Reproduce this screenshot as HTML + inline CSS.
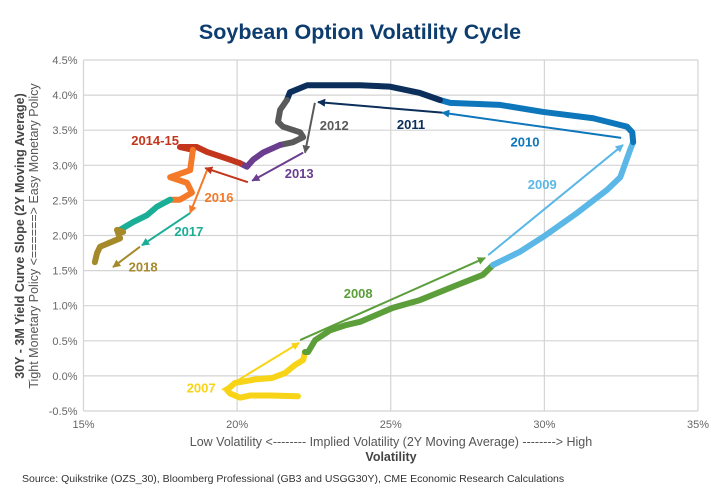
<!DOCTYPE html>
<html><head><meta charset="utf-8"><style>
body{margin:0;background:#fff;}
svg{display:block;font-family:"Liberation Sans",sans-serif;}
</style></head><body>
<svg id="chart" width="720" height="500" viewBox="0 0 720 500">
<text x="360" y="39" text-anchor="middle" font-size="21.5" font-weight="bold" fill="#0d3d6e">Soybean Option Volatility Cycle</text>
<g id="grid"></g>
<g id="series"></g>
<g id="arrows"></g>
<g id="labels"></g>
<g transform="translate(24,236) rotate(-90)">
<text x="0" y="0" text-anchor="middle" font-size="12.5" font-weight="bold" fill="#444">30Y - 3M Yield Curve Slope (2Y Moving Average)</text>
<text x="0" y="14" text-anchor="middle" font-size="12.5" fill="#555">Tight Monetary Policy &lt;======&gt; Easy Monetary Policy</text>
</g>
<text x="391" y="446" text-anchor="middle" font-size="12.5" fill="#555">Low Volatility  &lt;--------  Implied Volatility (2Y Moving Average)  --------&gt;  High</text>
<text x="391" y="461" text-anchor="middle" font-size="12.5" font-weight="bold" fill="#444">Volatility</text>
<text x="22" y="482" font-size="10.5" fill="#333">Source: Quikstrike (OZS_30), Bloomberg Professional (GB3 and USGG30Y), CME Economic Research Calculations</text>
</svg>
<script>
const xTicks=[15,20,25,30,35];
const yTicks=[-0.5,0,0.5,1,1.5,2,2.5,3,3.5,4,4.5];
const seriesNames=["2007","2008","2009","2010","2011","2012","2013","2014-15","2016","2017","2018"];
const seriesColors=["#f7d417","#5b9e3a","#5ab7e6","#0e76bb","#0b2e5a","#5a5a5a","#6a3d8f","#c4361b","#f47a2a","#1aae96","#a58a2c"];
const s2007=[[21.98,-0.29],[21.07,-0.28],[20.42,-0.28],[20.09,-0.31],[19.77,-0.25],[19.67,-0.2],[19.93,-0.1],[20.58,-0.05],[21.14,-0.03],[21.56,0.04],[21.88,0.155],[22.15,0.227],[22.21,0.34]];
const s2008=[[22.21,0.34],[22.31,0.34],[22.54,0.51],[23.03,0.65],[23.51,0.72],[24.0,0.77],[25.07,0.97],[25.95,1.08],[27.02,1.27],[28.0,1.44],[28.33,1.58]];
const s2009=[[28.33,1.58],[29.21,1.77],[29.96,1.98],[31.06,2.32],[32.04,2.65],[32.47,2.83],[32.79,3.22],[32.89,3.33]];
const s2010=[[32.89,3.33],[32.86,3.47],[32.69,3.55],[31.59,3.67],[29.96,3.76],[28.56,3.86],[26.93,3.89],[26.6,3.93]];
const s2011=[[26.6,3.93],[25.95,4.03],[24.98,4.12],[24.0,4.14],[22.28,4.14],[21.72,4.04],[21.62,3.93]];
const s2012=[[21.62,3.93],[21.4,3.79],[21.33,3.62],[21.49,3.55],[22.05,3.47],[22.15,3.40],[21.82,3.33],[21.4,3.29]];
const s2013=[[21.4,3.29],[20.84,3.18],[20.52,3.08],[20.32,2.98],[20.09,3.03]];
const s2014=[[20.09,3.03],[19.77,3.08],[19.02,3.19],[18.69,3.26],[18.14,3.26],[18.56,3.22]];
const s2016=[[18.56,3.22],[18.53,3.12],[18.47,2.93],[17.82,2.83],[18.37,2.75],[18.53,2.61],[18.14,2.51],[17.82,2.51]];
const s2017=[[17.82,2.51],[17.39,2.41],[17.07,2.29],[16.61,2.19],[16.19,2.08]];
const s2018=[[16.29,2.05],[16.09,2.08],[16.19,1.96],[15.54,1.84],[15.44,1.75],[15.37,1.62]];
const seriesData=[s2007,s2008,s2009,s2010,s2011,s2012,s2013,s2014,s2016,s2017,s2018];
const arrowStart=[[19.51,-0.2],[22.05,0.51],[28.17,1.72],[32.5,3.39],[26.67,3.75],[22.53,3.89],[22.15,3.18],[20.35,2.76],[19.02,2.93],[18.47,2.32],[16.84,1.84]];
const arrowEnd=[[22.02,0.47],[28.07,1.68],[32.56,3.29],[26.67,3.75],[22.63,3.9],[22.21,3.18],[20.49,2.78],[18.96,2.96],[18.47,2.32],[16.9,1.86],[15.96,1.55]];
const labelPos=[[18.83,-0.24],[23.94,1.11],[29.93,2.66],[29.37,3.27],[25.66,3.52],[23.16,3.5],[22.02,2.82],[17.33,3.29],[19.41,2.48],[18.43,1.99],[16.94,1.49]];

const NS="http://www.w3.org/2000/svg";
const X0=83.5,X1=698,Y0=411,Y1=60;
function sx(v){return X0+(v-15)/20*(X1-X0);}
function sy(v){return Y0-(v+0.5)/5*(Y0-Y1);}
function mk(t,a,p){const e=document.createElementNS(NS,t);for(const k in a)e.setAttribute(k,a[k]);p.appendChild(e);return e;}
const grid=document.getElementById('grid');
yTicks.forEach(v=>{
  const l=mk('line',{x1:X0,x2:X1,y1:sy(v),y2:sy(v),stroke:'#d4d4d4','stroke-width':1.2},grid);
  
  
  const t=mk('text',{x:X0-6,y:sy(v)+4,'text-anchor':'end','font-size':11,fill:'#666'},grid);
  t.textContent=v.toFixed(1)+'%';
  
  
});
xTicks.forEach(v=>{
  const l=mk('line',{x1:sx(v),x2:sx(v),y1:Y1,y2:Y0,stroke:'#d4d4d4','stroke-width':1.2},grid);
  
  
  const t=mk('text',{x:sx(v),y:Y0+17,'text-anchor':'middle','font-size':11,fill:'#666'},grid);
  t.textContent=v+'%';
  
  
});
const defs=mk('defs',{},document.getElementById('chart'));
seriesColors.forEach((c,i)=>{
  const m=mk('marker',{id:'ah'+i,viewBox:'0 0 10 10',refX:9,refY:5,markerWidth:4,markerHeight:4,orient:'auto'},defs);
  mk('path',{d:'M0,0 L10,5 L0,10 z',fill:c},m);
});
const sg=document.getElementById('series'),ag=document.getElementById('arrows'),lg=document.getElementById('labels');
seriesData.forEach((d,i)=>{
  const p=mk('polyline',{points:d.map(q=>sx(q[0])+','+sy(q[1])).join(' '),fill:'none',stroke:seriesColors[i],'stroke-width':6,'stroke-linejoin':'round','stroke-linecap':'round'},sg);
  
  
  const a=mk('line',{x1:sx(arrowStart[i][0]),y1:sy(arrowStart[i][1]),x2:sx(arrowEnd[i][0]),y2:sy(arrowEnd[i][1]),stroke:seriesColors[i],'stroke-width':2,'marker-end':'url(#ah'+i+')'},ag);
  
  
  const t=mk('text',{x:sx(labelPos[i][0]),y:sy(labelPos[i][1]),'text-anchor':'middle','font-size':13,'font-weight':'bold',fill:seriesColors[i]},lg);
  t.textContent=seriesNames[i];
  
  
});
</script>
</body></html>
